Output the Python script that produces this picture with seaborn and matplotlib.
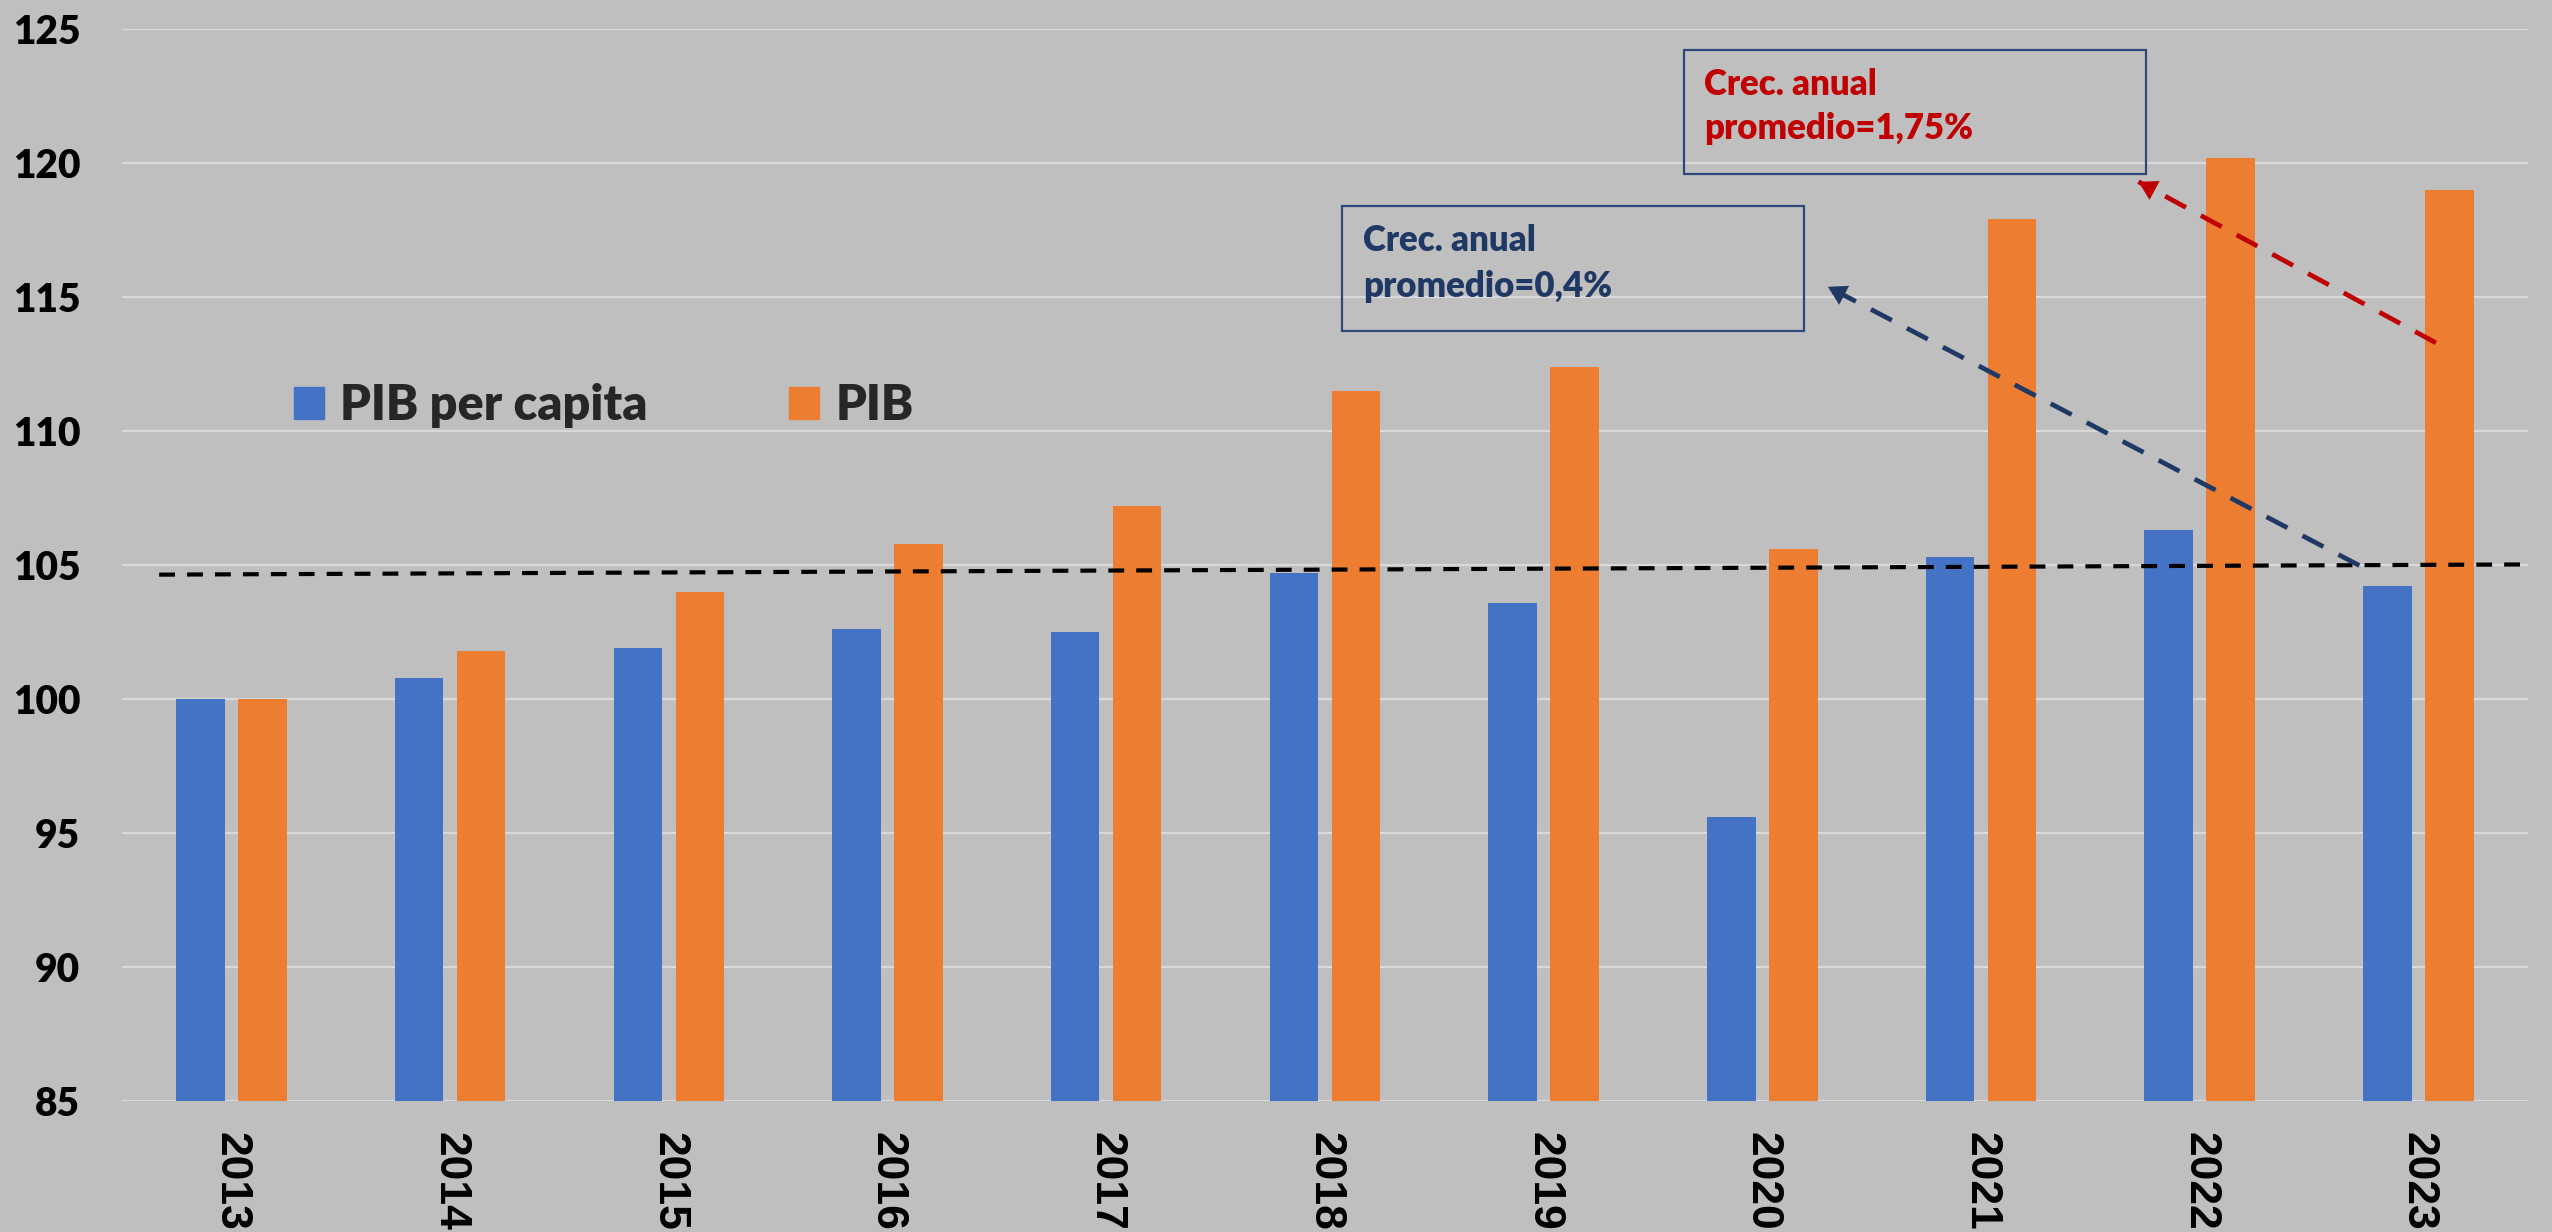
import numpy as np
import pandas as pd
import matplotlib
matplotlib.use('Agg')
import matplotlib.pyplot as plt
import matplotlib.patches as mpatches
import seaborn as sns

# data (index 2013 = 100)
years = ['2013', '2014', '2015', '2016', '2017', '2018', '2019', '2020', '2021', '2022', '2023']
pib_per_capita = [100.0, 100.8, 101.9, 102.6, 102.5, 104.7, 103.6, 95.6, 105.3, 106.3, 104.2]
pib = [100.0, 101.8, 104.0, 105.8, 107.2, 111.5, 112.4, 105.6, 117.9, 120.2, 119.0]
series_names = ['PIB per capita', 'PIB']

# reference dashed line (category position, value)
trend_x = [-0.33, 10.48]
trend_y = [104.64, 105.02]

# annotation arrows: tail -> head
arrow_blue = [(9.73, 104.98), (7.30, 115.38)]
arrow_red = [(10.08, 113.29), (8.72, 119.30)]

box_texts = ['Crec. anual', 'promedio=0,4%', 'Crec. anual', 'promedio=1,75%']

BLUE = '#4472C4'
ORANGE = '#ED7D31'
BG = '#BFBFBF'
GRID = '#D9D9D9'
NAVY = '#1F3864'
RED = '#C00000'
CAL = ['Lato', 'DejaVu Sans']

df = pd.DataFrame({
    'year': years * 2,
    'valor': pib_per_capita + pib,
    'serie': [series_names[0]] * len(years) + [series_names[1]] * len(years),
})

sns.set_theme(style='white')
plt.rcParams['font.family'] = CAL

fig, ax = plt.subplots(figsize=(25.52, 12.32), dpi=100)
fig.patch.set_facecolor(BG)
ax.set_facecolor(BG)
fig.subplots_adjust(left=0.0478, right=0.9905, bottom=0.1063, top=0.9765)

sns.barplot(data=df, x='year', y='valor', hue='serie', palette=[BLUE, ORANGE],
            width=0.567, gap=0.218, saturation=1, legend=False, linewidth=0, ax=ax)

ax.set_xlim(-0.5, 10.5)
ax.set_ylim(85, 125)
ax.set_yticks(np.arange(85, 126, 5))
ax.yaxis.grid(True, color=GRID, lw=1.6)
ax.set_axisbelow(True)
for s in ax.spines.values():
    s.set_visible(False)
ax.set_xlabel('')
ax.set_ylabel('')
ax.tick_params(axis='both', length=0)
ax.tick_params(axis='y', pad=30)
ax.tick_params(axis='x', pad=22)
for lab in ax.get_yticklabels():
    lab.set_fontsize(28)
    lab.set_fontweight('heavy')
    lab.set_family(CAL)
    lab.set_color('black')
for lab in ax.get_xticklabels():
    lab.set_fontsize(32)
    lab.set_fontweight('bold')
    lab.set_family(['Liberation Sans', 'DejaVu Sans'])
    lab.set_rotation(270)
    lab.set_color('black')

# black dashed reference line
ax.plot(trend_x, trend_y, color='black', lw=3, dashes=(3.8, 2.9), zorder=4)


def dashed_arrow(pts, color):
    (x0, y0), (x1, y1) = pts
    ax.plot([x0, x1], [y0, y1], color=color, lw=3.4, dashes=(5, 3.6), zorder=5,
            dash_capstyle='butt')
    xb = x1 + (x0 - x1) * 0.02
    yb = y1 + (y0 - y1) * 0.02
    ax.annotate('', xy=(x1, y1), xytext=(xb, yb),
                arrowprops=dict(arrowstyle='-|>,head_length=0.6,head_width=0.35',
                                color=color, lw=0, shrinkA=0, shrinkB=0,
                                mutation_scale=22), zorder=6)


dashed_arrow(arrow_blue, NAVY)
dashed_arrow(arrow_red, RED)

# text boxes
ax.add_patch(mpatches.Rectangle((5.079, 113.73), 7.191 - 5.079, 118.40 - 113.73,
                                fill=False, ec='#2F4A7A', lw=1.6, zorder=6))
ax.add_patch(mpatches.Rectangle((6.642, 119.59), 8.755 - 6.642, 124.22 - 119.59,
                                fill=False, ec='#2F4A7A', lw=1.6, zorder=6))
txt_kw = dict(fontsize=25, fontweight='heavy', va='baseline', zorder=7)
ax.text(5.174, 116.72, box_texts[0], color=NAVY, **txt_kw)
ax.text(5.174, 115.01, box_texts[1], color=NAVY, **txt_kw)
ax.text(6.734, 122.54, box_texts[2], color=RED, **txt_kw)
ax.text(6.734, 120.90, box_texts[3], color=RED, **txt_kw)

# legend: two pieces so the second one sits where it does in the reference
leg_kw = dict(frameon=False, loc='center left', borderpad=0, borderaxespad=0,
              handlelength=0.62, handleheight=0.64, handletextpad=0.33,
              prop={'family': CAL, 'weight': 'heavy', 'size': 35})
h1 = mpatches.Patch(color=BLUE, label=series_names[0])
h2 = mpatches.Patch(color=ORANGE, label=series_names[1])
fig.legend(handles=[h1], bbox_to_anchor=(294 / 2552, 1 - 406 / 1232), **leg_kw)
fig.legend(handles=[h2], bbox_to_anchor=(789 / 2552, 1 - 406 / 1232), **leg_kw)

fig.savefig('out.png', dpi=100, facecolor=BG)
